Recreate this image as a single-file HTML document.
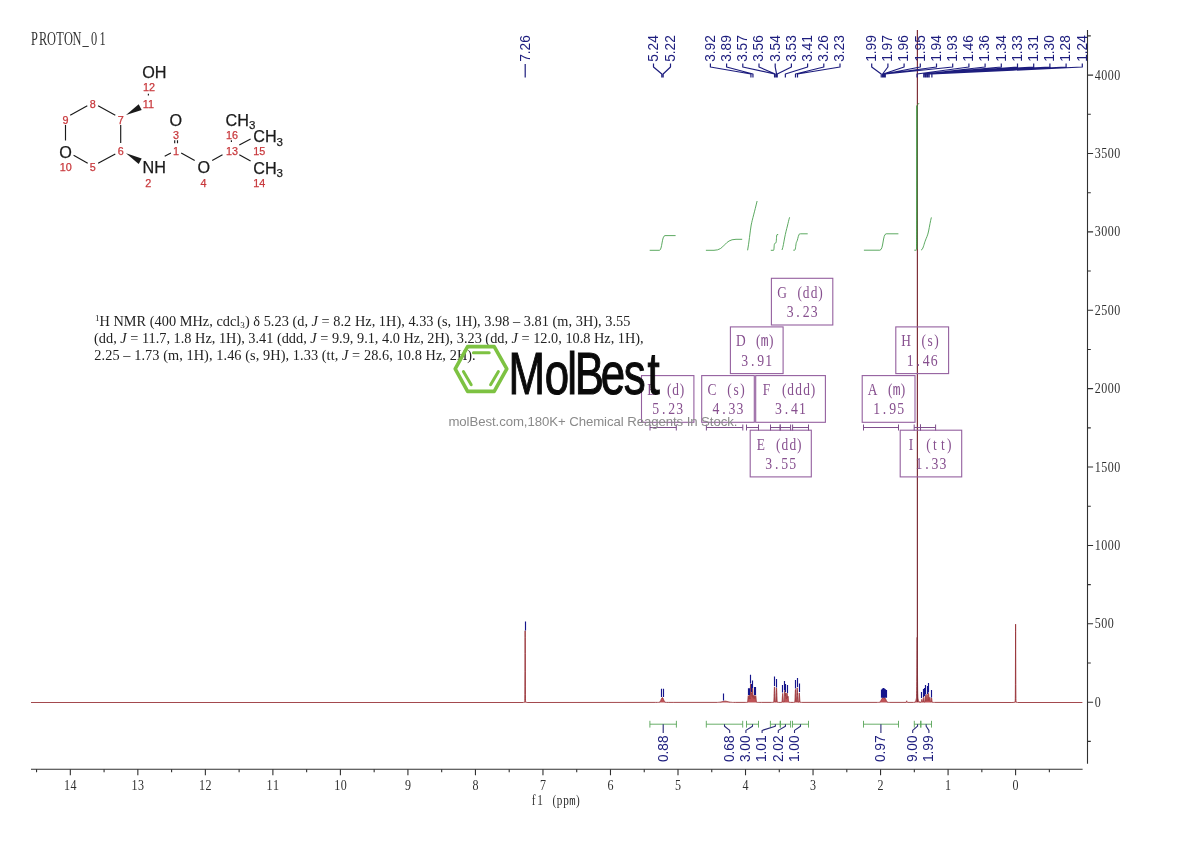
<!DOCTYPE html>
<html lang="en"><head><meta charset="utf-8"><title>PROTON_01 1H NMR</title>
<style>
html,body{margin:0;padding:0;background:#fff;}
svg{display:block;}
text{white-space:pre;}
</style></head><body>
<svg width="1190" height="841" viewBox="0 0 1190 841">
<rect width="1190" height="841" fill="#fff"/>
<text transform="translate(30.30 44.50) scale(0.680 1.000)" x="6.25 18.75 31.25 43.75 56.25 68.75 81.25 93.75 106.25" y="0" font-family="'Liberation Serif',serif" font-size="18.20" fill="#333" text-anchor="middle" >PROTON_01</text>
<g stroke="#303030" stroke-width="1.1" fill="none">
<path d="M31 769.3H1082.6"/>
<path d="M1049.36 769.3v3.0M1015.60 769.3v6.0M981.84 769.3v3.0M948.08 769.3v6.0M914.32 769.3v3.0M880.56 769.3v6.0M846.80 769.3v3.0M813.04 769.3v6.0M779.28 769.3v3.0M745.52 769.3v6.0M711.76 769.3v3.0M678.00 769.3v6.0M644.24 769.3v3.0M610.48 769.3v6.0M576.72 769.3v3.0M542.96 769.3v6.0M509.20 769.3v3.0M475.44 769.3v6.0M441.68 769.3v3.0M407.92 769.3v6.0M374.16 769.3v3.0M340.40 769.3v6.0M306.64 769.3v3.0M272.88 769.3v6.0M239.12 769.3v3.0M205.36 769.3v6.0M171.60 769.3v3.0M137.84 769.3v6.0M104.08 769.3v3.0M70.32 769.3v6.0M36.56 769.3v3.0"/>
<path d="M1087.5 30V763.7"/>
<path d="M1087.5 741.39h3.3M1087.5 702.20h5.6M1087.5 663.01h3.3M1087.5 623.81h5.6M1087.5 584.62h3.3M1087.5 545.43h5.6M1087.5 506.23h3.3M1087.5 467.04h5.6M1087.5 427.84h3.3M1087.5 388.65h5.6M1087.5 349.46h3.3M1087.5 310.26h5.6M1087.5 271.07h3.3M1087.5 231.88h5.6M1087.5 192.68h3.3M1087.5 153.49h5.6M1087.5 114.29h3.3M1087.5 75.10h5.6M1087.5 35.91h3.3"/>
</g>
<text transform="translate(1012.35 790.20) scale(0.860 1.000)" x="3.78" y="0" font-family="'Liberation Serif',serif" font-size="14.00" fill="#303030" text-anchor="middle" >0</text>
<text transform="translate(944.83 790.20) scale(0.860 1.000)" x="3.78" y="0" font-family="'Liberation Serif',serif" font-size="14.00" fill="#303030" text-anchor="middle" >1</text>
<text transform="translate(877.31 790.20) scale(0.860 1.000)" x="3.78" y="0" font-family="'Liberation Serif',serif" font-size="14.00" fill="#303030" text-anchor="middle" >2</text>
<text transform="translate(809.79 790.20) scale(0.860 1.000)" x="3.78" y="0" font-family="'Liberation Serif',serif" font-size="14.00" fill="#303030" text-anchor="middle" >3</text>
<text transform="translate(742.27 790.20) scale(0.860 1.000)" x="3.78" y="0" font-family="'Liberation Serif',serif" font-size="14.00" fill="#303030" text-anchor="middle" >4</text>
<text transform="translate(674.75 790.20) scale(0.860 1.000)" x="3.78" y="0" font-family="'Liberation Serif',serif" font-size="14.00" fill="#303030" text-anchor="middle" >5</text>
<text transform="translate(607.23 790.20) scale(0.860 1.000)" x="3.78" y="0" font-family="'Liberation Serif',serif" font-size="14.00" fill="#303030" text-anchor="middle" >6</text>
<text transform="translate(539.71 790.20) scale(0.860 1.000)" x="3.78" y="0" font-family="'Liberation Serif',serif" font-size="14.00" fill="#303030" text-anchor="middle" >7</text>
<text transform="translate(472.19 790.20) scale(0.860 1.000)" x="3.78" y="0" font-family="'Liberation Serif',serif" font-size="14.00" fill="#303030" text-anchor="middle" >8</text>
<text transform="translate(404.67 790.20) scale(0.860 1.000)" x="3.78" y="0" font-family="'Liberation Serif',serif" font-size="14.00" fill="#303030" text-anchor="middle" >9</text>
<text transform="translate(333.90 790.20) scale(0.860 1.000)" x="3.78 11.34" y="0" font-family="'Liberation Serif',serif" font-size="14.00" fill="#303030" text-anchor="middle" >10</text>
<text transform="translate(266.38 790.20) scale(0.860 1.000)" x="3.78 11.34" y="0" font-family="'Liberation Serif',serif" font-size="14.00" fill="#303030" text-anchor="middle" >11</text>
<text transform="translate(198.86 790.20) scale(0.860 1.000)" x="3.78 11.34" y="0" font-family="'Liberation Serif',serif" font-size="14.00" fill="#303030" text-anchor="middle" >12</text>
<text transform="translate(131.34 790.20) scale(0.860 1.000)" x="3.78 11.34" y="0" font-family="'Liberation Serif',serif" font-size="14.00" fill="#303030" text-anchor="middle" >13</text>
<text transform="translate(63.82 790.20) scale(0.860 1.000)" x="3.78 11.34" y="0" font-family="'Liberation Serif',serif" font-size="14.00" fill="#303030" text-anchor="middle" >14</text>
<text transform="translate(1094.60 706.80) scale(0.860 1.000)" x="3.78" y="0" font-family="'Liberation Serif',serif" font-size="14.00" fill="#303030" text-anchor="middle" >0</text>
<text transform="translate(1094.60 628.41) scale(0.860 1.000)" x="3.78 11.34 18.90" y="0" font-family="'Liberation Serif',serif" font-size="14.00" fill="#303030" text-anchor="middle" >500</text>
<text transform="translate(1094.60 550.03) scale(0.860 1.000)" x="3.78 11.34 18.90 26.45" y="0" font-family="'Liberation Serif',serif" font-size="14.00" fill="#303030" text-anchor="middle" >1000</text>
<text transform="translate(1094.60 471.64) scale(0.860 1.000)" x="3.78 11.34 18.90 26.45" y="0" font-family="'Liberation Serif',serif" font-size="14.00" fill="#303030" text-anchor="middle" >1500</text>
<text transform="translate(1094.60 393.25) scale(0.860 1.000)" x="3.78 11.34 18.90 26.45" y="0" font-family="'Liberation Serif',serif" font-size="14.00" fill="#303030" text-anchor="middle" >2000</text>
<text transform="translate(1094.60 314.86) scale(0.860 1.000)" x="3.78 11.34 18.90 26.45" y="0" font-family="'Liberation Serif',serif" font-size="14.00" fill="#303030" text-anchor="middle" >2500</text>
<text transform="translate(1094.60 236.48) scale(0.860 1.000)" x="3.78 11.34 18.90 26.45" y="0" font-family="'Liberation Serif',serif" font-size="14.00" fill="#303030" text-anchor="middle" >3000</text>
<text transform="translate(1094.60 158.09) scale(0.860 1.000)" x="3.78 11.34 18.90 26.45" y="0" font-family="'Liberation Serif',serif" font-size="14.00" fill="#303030" text-anchor="middle" >3500</text>
<text transform="translate(1094.60 79.70) scale(0.860 1.000)" x="3.78 11.34 18.90 26.45" y="0" font-family="'Liberation Serif',serif" font-size="14.00" fill="#303030" text-anchor="middle" >4000</text>
<text transform="translate(530.30 804.60) scale(0.800 1.000)" x="4.06 12.19 20.31 30.06 36.56 44.69 52.81 59.31" y="0" font-family="'Liberation Serif',serif" font-size="14.00" fill="#303030" text-anchor="middle" >f1 (pp<tspan font-family="'Liberation Mono',monospace" font-size="13.27">m</tspan>)</text>
<path d="M31.00,702.5 523.20,702.5 523.25,702.4 523.55,702.4 523.75,702.4 523.90,702.3 524.00,702.3 524.10,702.3 524.20,702.3 524.25,702.2 524.30,702.2 524.35,702.2 524.40,702.1 524.45,702.1 524.50,702.0 524.55,702.0 524.60,701.9 524.65,701.8 524.70,701.6 524.75,701.3 524.80,700.7 524.85,698.9 524.90,694.7 524.95,686.1 525.00,671.8 525.05,653.6 525.10,637.3 525.15,630.7 525.20,637.3 525.25,653.6 525.30,671.8 525.35,686.1 525.40,694.7 525.45,698.9 525.50,700.7 525.55,701.3 525.60,701.6 525.65,701.8 525.70,701.9 525.75,702.0 525.80,702.0 525.85,702.1 525.90,702.1 525.95,702.2 526.00,702.2 526.05,702.2 526.10,702.3 526.20,702.3 526.30,702.3 526.40,702.3 526.55,702.4 526.75,702.4 527.05,702.4 527.10,702.5 655.30,702.4 657.40,702.4 658.25,702.4 658.65,702.4 658.90,702.3 659.05,702.3 659.15,702.3 659.25,702.3 659.35,702.2 659.40,702.2 659.45,702.2 659.50,702.2 659.55,702.2 659.60,702.1 659.65,702.1 659.70,702.1 659.75,702.0 659.80,702.0 659.85,701.9 659.90,701.9 659.95,701.8 660.00,701.8 660.05,701.7 660.10,701.7 660.15,701.6 660.20,701.5 660.25,701.5 660.30,701.4 660.35,701.3 660.40,701.2 660.45,701.1 660.50,701.0 660.55,700.9 660.60,700.8 660.65,700.7 660.70,700.6 660.75,700.5 660.80,700.3 660.85,700.2 660.90,700.1 660.95,700.0 661.00,699.9 661.05,699.7 661.10,699.6 661.15,699.5 661.20,699.4 661.25,699.2 661.30,699.1 661.35,699.0 661.40,698.9 661.45,698.8 661.50,698.7 661.55,698.6 661.60,698.5 661.65,698.4 661.70,698.3 661.75,698.2 661.80,698.2 661.85,698.1 661.90,698.0 661.95,698.0 662.00,697.9 662.05,697.9 662.10,697.8 662.15,697.8 662.20,697.8 662.30,697.8 662.50,697.8 662.55,697.8 662.60,697.8 662.65,697.9 662.70,697.9 662.75,698.0 662.80,698.0 662.85,698.1 662.90,698.2 662.95,698.2 663.00,698.3 663.05,698.4 663.10,698.5 663.15,698.6 663.20,698.7 663.25,698.8 663.30,698.9 663.35,699.0 663.40,699.1 663.45,699.2 663.50,699.4 663.55,699.5 663.60,699.6 663.65,699.7 663.70,699.9 663.75,700.0 663.80,700.1 663.85,700.2 663.90,700.3 663.95,700.5 664.00,700.6 664.05,700.7 664.10,700.8 664.15,700.9 664.20,701.0 664.25,701.1 664.30,701.2 664.35,701.3 664.40,701.4 664.45,701.5 664.50,701.5 664.55,701.6 664.60,701.7 664.65,701.7 664.70,701.8 664.75,701.8 664.80,701.9 664.85,701.9 664.90,702.0 664.95,702.0 665.00,702.1 665.05,702.1 665.10,702.1 665.15,702.2 665.20,702.2 665.25,702.2 665.30,702.2 665.40,702.3 665.50,702.3 665.60,702.3 665.75,702.3 665.95,702.4 666.25,702.4 666.85,702.4 668.25,702.4 673.15,702.4 716.00,702.4 717.10,702.4 717.70,702.4 718.10,702.4 718.45,702.3 718.75,702.3 719.00,702.3 719.20,702.3 719.40,702.2 719.60,702.2 719.75,702.2 719.90,702.2 720.05,702.1 720.20,702.1 720.35,702.1 720.50,702.1 720.60,702.0 720.70,702.0 720.80,702.0 720.90,702.0 721.00,702.0 721.10,701.9 721.20,701.9 721.30,701.9 721.40,701.9 721.50,701.8 721.60,701.8 721.70,701.8 721.80,701.8 721.90,701.7 722.00,701.7 722.10,701.7 722.20,701.6 722.30,701.6 722.40,701.6 722.50,701.6 722.60,701.5 722.70,701.5 722.80,701.5 722.90,701.5 723.00,701.4 723.10,701.4 723.20,701.4 723.30,701.4 723.40,701.3 723.50,701.3 723.60,701.3 723.75,701.3 723.90,701.2 724.05,701.2 724.20,701.2 724.40,701.2 724.70,701.2 725.60,701.2 725.80,701.2 725.95,701.2 726.10,701.2 726.25,701.3 726.40,701.3 726.50,701.3 726.60,701.3 726.70,701.4 726.80,701.4 726.90,701.4 727.00,701.4 727.10,701.5 727.20,701.5 727.30,701.5 727.40,701.5 727.50,701.6 727.60,701.6 727.70,701.6 727.80,701.6 727.90,701.7 728.00,701.7 728.10,701.7 728.20,701.8 728.30,701.8 728.40,701.8 728.50,701.8 728.60,701.9 728.70,701.9 728.80,701.9 728.90,701.9 729.00,702.0 729.10,702.0 729.20,702.0 729.30,702.0 729.40,702.0 729.50,702.1 729.65,702.1 729.80,702.1 729.95,702.1 730.10,702.2 730.25,702.2 730.40,702.2 730.55,702.2 730.75,702.3 730.95,702.3 731.20,702.3 731.45,702.3 731.75,702.3 732.10,702.4 732.60,702.4 733.35,702.4 735.20,702.4 745.85,702.4 746.25,702.4 746.65,702.4 746.90,702.3 747.05,702.3 747.15,702.3 747.20,702.3 747.25,702.3 747.30,702.2 747.35,702.2 747.40,702.1 747.45,702.1 747.50,702.0 747.55,701.8 747.60,701.7 747.65,701.4 747.70,701.1 747.75,700.8 747.80,700.3 747.85,699.9 747.90,699.3 747.95,698.7 748.00,698.1 748.05,697.5 748.10,696.9 748.15,696.5 748.20,696.1 748.25,695.8 748.30,695.7 748.35,695.8 748.40,696.0 748.45,696.3 748.50,696.7 748.55,697.2 748.60,697.7 748.65,698.2 748.70,698.5 748.75,698.8 748.80,699.0 748.85,699.0 748.90,698.9 748.95,698.7 749.00,698.3 749.05,697.9 749.10,697.3 749.15,696.8 749.20,696.3 749.25,695.8 749.30,695.4 749.35,695.2 749.40,695.1 749.45,695.2 749.50,695.4 749.55,695.8 749.60,696.3 749.65,696.8 749.70,697.4 749.75,697.9 749.80,698.4 749.85,698.7 749.90,698.9 749.95,698.9 750.00,698.7 750.05,698.2 750.10,697.4 750.15,696.3 750.20,695.0 750.25,693.4 750.30,691.6 750.35,689.8 750.40,688.0 750.45,686.4 750.50,685.1 750.55,684.3 750.60,683.9 750.65,684.1 750.70,684.8 750.75,685.9 750.80,687.2 750.85,688.7 750.90,690.2 750.95,691.5 751.00,692.6 751.05,693.4 751.10,694.0 751.15,694.2 751.20,694.1 751.25,693.9 751.30,693.6 751.35,693.3 751.40,693.0 751.45,692.8 751.50,692.7 751.55,692.9 751.60,693.2 751.65,693.7 751.70,694.2 751.75,694.8 751.80,695.4 751.85,695.9 751.90,696.2 751.95,696.4 752.00,696.2 752.05,695.8 752.10,695.2 752.15,694.3 752.20,693.1 752.25,691.9 752.30,690.7 752.35,689.6 752.40,688.7 752.45,688.1 752.50,687.9 752.55,688.2 752.60,688.8 752.65,689.7 752.70,690.9 752.75,692.1 752.80,693.4 752.85,694.6 752.90,695.7 752.95,696.5 753.00,697.0 753.05,697.4 753.10,697.5 753.15,697.3 753.20,697.1 753.25,696.8 753.30,696.4 753.35,696.0 753.40,695.7 753.45,695.5 753.50,695.5 753.55,695.5 753.60,695.7 753.65,696.1 753.70,696.5 753.75,696.9 753.80,697.4 753.85,697.8 753.90,698.2 753.95,698.4 754.00,698.6 754.05,698.6 754.10,698.6 754.15,698.4 754.20,698.1 754.25,697.7 754.30,697.3 754.35,696.9 754.40,696.5 754.45,696.1 754.50,695.8 754.55,695.7 754.60,695.6 754.65,695.6 754.70,695.8 754.75,696.0 754.80,696.4 754.85,696.7 754.90,697.1 754.95,697.5 755.00,697.8 755.05,698.1 755.10,698.2 755.15,698.3 755.20,698.2 755.25,698.1 755.30,697.8 755.35,697.5 755.40,697.2 755.45,696.8 755.50,696.5 755.55,696.1 755.60,695.9 755.65,695.8 755.70,695.7 755.75,695.8 755.80,696.0 755.85,696.4 755.90,696.8 755.95,697.2 756.00,697.8 756.05,698.3 756.10,698.9 756.15,699.4 756.20,699.9 756.25,700.3 756.30,700.7 756.35,701.0 756.40,701.3 756.45,701.6 756.50,701.7 756.55,701.9 756.60,702.0 756.65,702.1 756.70,702.1 756.75,702.2 756.80,702.2 756.85,702.3 756.90,702.3 756.95,702.3 757.05,702.3 757.20,702.3 757.35,702.4 757.70,702.4 758.25,702.4 759.10,702.4 761.70,702.4 771.05,702.4 771.70,702.4 772.30,702.4 772.65,702.4 772.90,702.3 773.10,702.3 773.25,702.3 773.35,702.3 773.40,702.2 773.45,702.2 773.50,702.2 773.55,702.1 773.60,702.1 773.65,702.0 773.70,701.9 773.75,701.7 773.80,701.4 773.85,701.0 773.90,700.5 773.95,699.8 774.00,698.9 774.05,697.8 774.10,696.5 774.15,695.0 774.20,693.5 774.25,691.9 774.30,690.3 774.35,688.9 774.40,687.8 774.45,687.1 774.50,686.9 774.55,687.1 774.60,687.8 774.65,688.9 774.70,690.3 774.75,691.8 774.80,693.4 774.85,695.0 774.90,696.5 774.95,697.7 775.00,698.8 775.05,699.7 775.10,700.4 775.15,700.9 775.20,701.3 775.25,701.6 775.30,701.7 775.35,701.9 775.40,701.9 775.45,702.0 775.55,702.0 775.60,701.9 775.65,701.9 775.70,701.8 775.75,701.6 775.80,701.3 775.85,701.0 775.90,700.5 775.95,699.9 776.00,699.0 776.05,698.0 776.10,696.8 776.15,695.5 776.20,694.0 776.25,692.5 776.30,691.1 776.35,689.8 776.40,688.8 776.45,688.1 776.50,687.9 776.55,688.1 776.60,688.8 776.65,689.8 776.70,691.1 776.75,692.5 776.80,694.0 776.85,695.5 776.90,696.9 776.95,698.1 777.00,699.1 777.05,699.9 777.10,700.6 777.15,701.1 777.20,701.4 777.25,701.7 777.30,701.9 777.35,702.0 777.40,702.1 777.45,702.2 777.50,702.2 777.55,702.2 777.60,702.2 777.70,702.3 777.80,702.3 778.00,702.3 778.20,702.3 778.50,702.4 779.00,702.4 780.95,702.4 781.25,702.3 781.50,702.3 781.60,702.3 781.70,702.3 781.75,702.2 781.80,702.2 781.85,702.2 781.90,702.1 781.95,702.0 782.00,701.8 782.05,701.6 782.10,701.3 782.15,700.9 782.20,700.3 782.25,699.7 782.30,699.0 782.35,698.1 782.40,697.2 782.45,696.3 782.50,695.4 782.55,694.6 782.60,693.9 782.65,693.5 782.70,693.4 782.75,693.5 782.80,693.9 782.85,694.5 782.90,695.3 782.95,696.2 783.00,697.1 783.05,698.1 783.10,698.9 783.15,699.6 783.20,700.3 783.25,700.8 783.30,701.2 783.35,701.5 783.40,701.7 783.45,701.8 783.50,701.9 783.55,702.0 783.60,702.0 783.75,702.0 783.80,702.0 783.85,701.9 783.90,701.8 783.95,701.7 784.00,701.5 784.05,701.3 784.10,701.0 784.15,700.6 784.20,700.0 784.25,699.4 784.30,698.6 784.35,697.7 784.40,696.7 784.45,695.6 784.50,694.5 784.55,693.4 784.60,692.4 784.65,691.5 784.70,690.8 784.75,690.3 784.80,690.2 784.85,690.3 784.90,690.6 784.95,691.2 785.00,691.9 785.05,692.8 785.10,693.6 785.15,694.4 785.20,695.1 785.25,695.6 785.30,695.9 785.35,696.0 785.40,695.9 785.45,695.6 785.50,695.2 785.55,694.7 785.60,694.2 785.65,693.7 785.70,693.3 785.75,693.1 785.80,693.0 785.85,693.2 785.90,693.5 785.95,694.0 786.00,694.6 786.05,695.4 786.10,696.1 786.15,696.9 786.20,697.6 786.25,698.1 786.30,698.6 786.35,698.8 786.40,698.9 786.45,698.8 786.50,698.6 786.55,698.1 786.60,697.6 786.65,696.9 786.70,696.2 786.75,695.4 786.80,694.7 786.85,694.1 786.90,693.6 786.95,693.3 787.00,693.1 787.05,693.2 787.10,693.5 787.15,694.0 787.20,694.5 787.25,695.2 787.30,695.9 787.35,696.5 787.40,697.0 787.45,697.5 787.50,697.8 787.55,697.9 787.60,697.9 787.65,697.8 787.70,697.5 787.75,697.2 787.80,696.9 787.85,696.6 787.90,696.3 787.95,696.2 788.00,696.2 788.05,696.3 788.10,696.5 788.15,696.9 788.20,697.3 788.25,697.9 788.30,698.4 788.35,699.0 788.40,699.5 788.45,700.0 788.50,700.5 788.55,700.9 788.60,701.2 788.65,701.5 788.70,701.7 788.75,701.9 788.80,702.0 788.85,702.1 788.90,702.2 788.95,702.2 789.00,702.2 789.05,702.3 789.15,702.3 789.25,702.3 789.40,702.3 789.65,702.4 790.00,702.4 790.30,702.4 793.55,702.4 793.85,702.4 794.05,702.3 794.20,702.3 794.30,702.3 794.40,702.3 794.45,702.2 794.50,702.2 794.55,702.2 794.60,702.1 794.65,702.0 794.70,701.9 794.75,701.8 794.80,701.5 794.85,701.2 794.90,700.8 794.95,700.2 795.00,699.4 795.05,698.5 795.10,697.4 795.15,696.2 795.20,694.9 795.25,693.5 795.30,692.2 795.35,691.1 795.40,690.2 795.45,689.6 795.50,689.4 795.55,689.6 795.60,690.1 795.65,691.0 795.70,692.2 795.75,693.5 795.80,694.8 795.85,696.1 795.90,697.4 795.95,698.4 796.00,699.3 796.05,700.1 796.10,700.6 796.15,701.0 796.20,701.3 796.25,701.5 796.30,701.6 796.35,701.7 796.40,701.6 796.45,701.5 796.50,701.3 796.55,700.9 796.60,700.5 796.65,699.8 796.70,699.0 796.75,698.0 796.80,696.8 796.85,695.4 796.90,694.0 796.95,692.5 797.00,691.0 797.05,689.7 797.10,688.7 797.15,688.1 797.20,687.8 797.25,688.1 797.30,688.7 797.35,689.7 797.40,691.0 797.45,692.5 797.50,694.0 797.55,695.5 797.60,696.8 797.65,698.0 797.70,699.1 797.75,699.9 797.80,700.5 797.85,701.0 797.90,701.4 797.95,701.6 798.00,701.8 798.05,701.9 798.10,702.0 798.15,702.1 798.20,702.1 798.35,702.1 798.40,702.1 798.45,702.0 798.50,702.0 798.55,701.8 798.60,701.7 798.65,701.5 798.70,701.1 798.75,700.7 798.80,700.2 798.85,699.5 798.90,698.7 798.95,697.8 799.00,696.9 799.05,695.9 799.10,695.0 799.15,694.1 799.20,693.5 799.25,693.0 799.30,692.9 799.35,693.0 799.40,693.5 799.45,694.1 799.50,695.0 799.55,695.9 799.60,696.9 799.65,697.9 799.70,698.8 799.75,699.6 799.80,700.2 799.85,700.8 799.90,701.2 799.95,701.5 800.00,701.8 800.05,701.9 800.10,702.1 800.15,702.1 800.20,702.2 800.25,702.2 800.30,702.3 800.35,702.3 800.45,702.3 800.60,702.3 800.80,702.4 801.10,702.4 801.60,702.4 802.05,702.4 877.55,702.4 878.55,702.4 879.00,702.4 879.25,702.3 879.40,702.3 879.50,702.3 879.60,702.3 879.70,702.2 879.75,702.2 879.80,702.2 879.85,702.2 879.90,702.1 879.95,702.1 880.00,702.0 880.05,702.0 880.10,702.0 880.15,701.9 880.20,701.8 880.25,701.8 880.30,701.7 880.35,701.6 880.40,701.6 880.45,701.5 880.50,701.4 880.55,701.3 880.60,701.2 880.65,701.1 880.70,701.0 880.75,700.9 880.80,700.8 880.85,700.7 880.90,700.6 880.95,700.5 881.00,700.4 881.05,700.3 881.10,700.2 881.15,700.1 881.20,700.0 881.25,699.9 881.30,699.8 881.35,699.7 881.40,699.6 881.45,699.5 881.50,699.4 881.55,699.3 881.60,699.3 881.65,699.2 881.70,699.1 881.75,699.0 881.80,699.0 881.85,698.9 881.90,698.8 881.95,698.8 882.00,698.7 882.05,698.6 882.10,698.6 882.15,698.5 882.20,698.4 882.25,698.4 882.30,698.3 882.35,698.2 882.40,698.2 882.45,698.1 882.50,698.1 882.55,698.0 882.60,698.0 882.65,697.9 882.70,697.9 882.75,697.8 882.80,697.8 882.85,697.8 882.90,697.7 882.95,697.7 883.00,697.7 883.05,697.6 883.10,697.6 883.15,697.6 883.20,697.5 883.25,697.5 883.30,697.5 883.35,697.4 883.40,697.4 883.45,697.4 883.55,697.4 883.70,697.3 883.85,697.4 883.90,697.4 883.95,697.4 884.00,697.4 884.05,697.5 884.10,697.5 884.15,697.5 884.20,697.6 884.25,697.6 884.30,697.7 884.35,697.7 884.40,697.7 884.45,697.8 884.50,697.8 884.55,697.9 884.60,697.9 884.65,698.0 884.70,698.0 884.75,698.0 884.80,698.1 884.85,698.1 884.90,698.2 884.95,698.2 885.00,698.3 885.05,698.3 885.10,698.4 885.15,698.4 885.20,698.5 885.25,698.5 885.30,698.6 885.35,698.6 885.40,698.7 885.45,698.8 885.50,698.9 885.55,698.9 885.60,699.0 885.65,699.1 885.70,699.2 885.75,699.3 885.80,699.4 885.85,699.4 885.90,699.5 885.95,699.6 886.00,699.7 886.05,699.8 886.10,699.9 886.15,700.1 886.20,700.2 886.25,700.3 886.30,700.4 886.35,700.5 886.40,700.6 886.45,700.7 886.50,700.8 886.55,700.9 886.60,701.0 886.65,701.1 886.70,701.2 886.75,701.3 886.80,701.4 886.85,701.5 886.90,701.5 886.95,701.6 887.00,701.7 887.05,701.8 887.10,701.8 887.15,701.9 887.20,701.9 887.25,702.0 887.30,702.0 887.35,702.1 887.40,702.1 887.45,702.1 887.50,702.2 887.55,702.2 887.60,702.2 887.65,702.2 887.75,702.3 887.85,702.3 887.95,702.3 888.10,702.3 888.35,702.4 888.80,702.4 889.75,702.4 892.00,702.4 905.95,702.4 906.00,702.4 906.05,702.4 906.10,702.3 906.15,702.3 906.20,702.2 906.25,702.1 906.30,702.0 906.35,701.8 906.40,701.7 906.45,701.5 906.50,701.3 906.55,701.1 906.60,701.0 906.65,700.9 906.70,700.8 906.75,700.9 906.80,701.0 906.85,701.1 906.90,701.3 906.95,701.5 907.00,701.7 907.05,701.8 907.10,702.0 907.15,702.1 907.20,702.2 907.25,702.3 907.30,702.3 907.35,702.4 907.40,702.4 907.50,702.4 907.90,702.4 913.20,702.4 913.60,702.4 913.65,702.4 914.00,702.3 914.25,702.3 914.40,702.3 914.55,702.3 914.65,702.2 914.75,702.2 914.80,702.2 914.85,702.2 914.90,702.1 914.95,702.1 915.00,702.1 915.05,702.0 915.10,702.0 915.15,702.0 915.20,701.9 915.25,701.9 915.30,701.8 915.35,701.7 915.40,701.7 915.45,701.6 915.50,701.5 915.55,701.4 915.60,701.3 915.65,701.2 915.70,701.1 915.75,701.0 915.80,700.8 915.85,700.7 915.90,700.5 915.95,700.4 916.00,700.2 916.05,700.0 916.10,699.8 916.15,699.6 916.20,699.4 916.25,699.2 916.30,699.0 916.35,698.7 916.40,698.4 916.45,698.1 916.50,697.7 916.55,697.2 916.60,696.4 916.65,695.1 916.70,693.3 916.75,690.6 916.80,686.7 916.85,681.5 916.90,674.9 916.95,667.2 917.00,658.8 917.05,650.7 917.10,643.8 917.15,639.1 917.20,637.4 917.25,639.1 917.30,643.8 917.35,650.7 917.40,658.8 917.45,667.2 917.50,674.9 917.55,681.5 917.60,686.7 917.65,690.6 917.70,693.3 917.75,695.1 917.80,696.4 917.85,697.2 917.90,697.7 917.95,698.1 918.00,698.4 918.05,698.7 918.10,699.0 918.15,699.2 918.20,699.4 918.25,699.6 918.30,699.8 918.35,700.0 918.40,700.2 918.45,700.4 918.50,700.5 918.55,700.7 918.60,700.8 918.65,700.9 918.70,701.1 918.75,701.2 918.80,701.3 918.85,701.4 918.90,701.5 918.95,701.6 919.00,701.6 919.05,701.7 919.10,701.8 919.15,701.8 919.20,701.9 919.25,701.9 919.30,702.0 919.35,702.0 919.40,702.1 919.45,702.1 919.50,702.1 919.55,702.1 919.60,702.2 919.70,702.2 919.80,702.2 919.90,702.2 920.05,702.3 920.35,702.3 920.80,702.3 920.85,702.3 920.90,702.3 920.95,702.2 921.00,702.2 921.05,702.1 921.10,702.0 921.15,701.9 921.20,701.8 921.25,701.7 921.30,701.5 921.35,701.2 921.40,701.0 921.45,700.7 921.50,700.4 921.55,700.2 921.60,699.9 921.65,699.7 921.70,699.5 921.75,699.4 921.80,699.4 921.85,699.4 921.90,699.5 921.95,699.7 922.00,699.9 922.05,700.1 922.10,700.4 922.15,700.7 922.20,701.0 922.25,701.2 922.30,701.4 922.35,701.6 922.40,701.8 922.45,701.9 922.50,702.0 922.55,702.0 922.60,702.0 922.65,702.0 922.70,702.0 922.75,701.9 922.80,701.8 922.85,701.6 922.90,701.4 922.95,701.1 923.00,700.8 923.05,700.5 923.10,700.0 923.15,699.6 923.20,699.1 923.25,698.7 923.30,698.2 923.35,697.9 923.40,697.6 923.45,697.4 923.50,697.4 923.55,697.4 923.60,697.6 923.65,697.9 923.70,698.2 923.75,698.7 923.80,699.1 923.85,699.6 923.90,700.0 923.95,700.4 924.00,700.8 924.05,701.1 924.10,701.4 924.15,701.6 924.20,701.8 924.25,701.9 924.30,702.0 924.35,702.1 924.40,702.1 924.50,702.1 924.55,702.1 924.60,702.0 924.65,702.0 924.70,701.9 924.75,701.7 924.80,701.6 924.85,701.3 924.90,701.0 924.95,700.6 925.00,700.2 925.05,699.7 925.10,699.1 925.15,698.4 925.20,697.8 925.25,697.2 925.30,696.6 925.35,696.0 925.40,695.6 925.45,695.4 925.50,695.3 925.55,695.4 925.60,695.6 925.65,696.0 925.70,696.5 925.75,697.1 925.80,697.7 925.85,698.3 925.90,698.9 925.95,699.5 926.00,699.9 926.05,700.3 926.10,700.6 926.15,700.8 926.20,700.8 926.25,700.8 926.30,700.7 926.35,700.4 926.40,700.1 926.45,699.7 926.50,699.2 926.55,698.6 926.60,698.0 926.65,697.3 926.70,696.7 926.75,696.0 926.80,695.5 926.85,695.0 926.90,694.6 926.95,694.4 927.00,694.3 927.05,694.4 927.10,694.6 927.15,695.0 927.20,695.4 927.25,696.0 927.30,696.6 927.35,697.3 927.40,697.9 927.45,698.6 927.50,699.1 927.55,699.6 927.60,700.0 927.65,700.3 927.70,700.5 927.75,700.6 927.80,700.6 927.85,700.5 927.90,700.2 927.95,699.8 928.00,699.3 928.05,698.7 928.10,698.0 928.15,697.2 928.20,696.4 928.25,695.6 928.30,694.9 928.35,694.2 928.40,693.7 928.45,693.4 928.50,693.3 928.55,693.4 928.60,693.7 928.65,694.2 928.70,694.9 928.75,695.6 928.80,696.4 928.85,697.2 928.90,698.0 928.95,698.7 929.00,699.3 929.05,699.8 929.10,700.1 929.15,700.4 929.20,700.5 929.25,700.4 929.30,700.3 929.35,700.1 929.40,699.7 929.45,699.4 929.50,698.9 929.55,698.5 929.60,698.1 929.65,697.8 929.70,697.5 929.75,697.3 929.80,697.3 929.85,697.4 929.90,697.5 929.95,697.8 930.00,698.2 930.05,698.6 930.10,699.1 930.15,699.5 930.20,700.0 930.25,700.4 930.30,700.8 930.35,701.1 930.40,701.4 930.45,701.6 930.50,701.7 930.55,701.8 930.60,701.9 930.65,701.9 930.70,701.9 930.75,701.9 930.80,701.8 930.85,701.7 930.90,701.5 930.95,701.2 931.00,701.0 931.05,700.6 931.10,700.3 931.15,699.9 931.20,699.5 931.25,699.0 931.30,698.7 931.35,698.3 931.40,698.1 931.45,697.9 931.50,697.9 931.55,697.9 931.60,698.1 931.65,698.4 931.70,698.7 931.75,699.1 931.80,699.5 931.85,699.9 931.90,700.3 931.95,700.7 932.00,701.0 932.05,701.3 932.10,701.6 932.15,701.8 932.20,701.9 932.25,702.0 932.30,702.1 932.35,702.2 932.40,702.3 932.45,702.3 932.50,702.3 932.60,702.3 932.75,702.4 933.00,702.4 933.55,702.4 934.45,702.4 1011.95,702.5 1013.95,702.4 1014.15,702.4 1014.30,702.3 1014.45,702.3 1014.55,702.3 1014.60,702.3 1014.65,702.2 1014.70,702.2 1014.75,702.2 1014.80,702.1 1014.85,702.1 1014.90,702.1 1014.95,702.0 1015.00,701.9 1015.05,701.8 1015.10,701.7 1015.15,701.5 1015.20,701.2 1015.25,700.5 1015.30,698.6 1015.35,694.0 1015.40,684.6 1015.45,669.0 1015.50,649.1 1015.55,631.4 1015.60,624.2 1015.65,631.4 1015.70,649.1 1015.75,669.0 1015.80,684.6 1015.85,694.0 1015.90,698.6 1015.95,700.5 1016.00,701.2 1016.05,701.5 1016.10,701.7 1016.15,701.8 1016.20,701.9 1016.25,702.0 1016.30,702.1 1016.35,702.1 1016.40,702.1 1016.45,702.2 1016.50,702.2 1016.55,702.2 1016.60,702.3 1016.70,702.3 1016.80,702.3 1016.95,702.3 1017.10,702.4 1017.35,702.4 1017.50,702.4 1017.55,702.5 1082.40,702.5" fill="#a8181e" fill-opacity="0.75" stroke="#98343a" stroke-width="0.9" stroke-linejoin="round"/>
<path d="M917.4 30V702" fill="none" stroke="#7f3038" stroke-width="1.2"/>
<path d="M525.5 621.4V630.5M661.5 688.7V697.0M663.5 688.7V697.0M723.5 693.4V700.4M748.5 688.2V695.0M749.5 688.2V695.0M750.5 674.7V683.5M752.5 680.6V688.0M751.5 684.0V692.0M754.5 686.9V695.0M755.5 686.9V695.0M774.5 676.4V686.0M776.5 678.9V687.5M782.5 685.0V692.5M784.5 681.0V690.0M785.5 684.0V692.0M787.5 685.0V693.0M795.5 680.0V688.5M797.5 678.0V687.0M799.5 683.5V692.0M881.5 689.6V697.8M882.5 688.6V697.8M883.5 688.0V697.8M884.5 688.4V697.8M885.5 689.2V697.8M886.5 690.0V697.8M921.5 692.0V698.0M923.5 689.0V697.0M924.5 688.0V696.0M925.5 685.0V694.5M927.5 686.0V694.0M928.5 683.0V692.5M931.5 690.0V697.5" fill="none" stroke="#15158c" stroke-width="1.15"/>
<text transform="translate(529.50 61.80) rotate(-90) scale(1 1.08)" font-family="'Liberation Sans',sans-serif" font-size="13.70" fill="#1d1d7e">7.26</text>
<text transform="translate(657.80 61.80) rotate(-90) scale(1 1.08)" font-family="'Liberation Sans',sans-serif" font-size="13.70" fill="#1d1d7e">5.24</text>
<text transform="translate(674.80 61.80) rotate(-90) scale(1 1.08)" font-family="'Liberation Sans',sans-serif" font-size="13.70" fill="#1d1d7e">5.22</text>
<text transform="translate(714.70 61.80) rotate(-90) scale(1 1.08)" font-family="'Liberation Sans',sans-serif" font-size="13.70" fill="#1d1d7e">3.92</text>
<text transform="translate(730.90 61.80) rotate(-90) scale(1 1.08)" font-family="'Liberation Sans',sans-serif" font-size="13.70" fill="#1d1d7e">3.89</text>
<text transform="translate(747.10 61.80) rotate(-90) scale(1 1.08)" font-family="'Liberation Sans',sans-serif" font-size="13.70" fill="#1d1d7e">3.57</text>
<text transform="translate(763.30 61.80) rotate(-90) scale(1 1.08)" font-family="'Liberation Sans',sans-serif" font-size="13.70" fill="#1d1d7e">3.56</text>
<text transform="translate(779.50 61.80) rotate(-90) scale(1 1.08)" font-family="'Liberation Sans',sans-serif" font-size="13.70" fill="#1d1d7e">3.54</text>
<text transform="translate(795.70 61.80) rotate(-90) scale(1 1.08)" font-family="'Liberation Sans',sans-serif" font-size="13.70" fill="#1d1d7e">3.53</text>
<text transform="translate(811.90 61.80) rotate(-90) scale(1 1.08)" font-family="'Liberation Sans',sans-serif" font-size="13.70" fill="#1d1d7e">3.41</text>
<text transform="translate(828.10 61.80) rotate(-90) scale(1 1.08)" font-family="'Liberation Sans',sans-serif" font-size="13.70" fill="#1d1d7e">3.26</text>
<text transform="translate(844.30 61.80) rotate(-90) scale(1 1.08)" font-family="'Liberation Sans',sans-serif" font-size="13.70" fill="#1d1d7e">3.23</text>
<text transform="translate(876.00 61.80) rotate(-90) scale(1 1.08)" font-family="'Liberation Sans',sans-serif" font-size="13.70" fill="#1d1d7e">1.99</text>
<text transform="translate(892.20 61.80) rotate(-90) scale(1 1.08)" font-family="'Liberation Sans',sans-serif" font-size="13.70" fill="#1d1d7e">1.97</text>
<text transform="translate(908.40 61.80) rotate(-90) scale(1 1.08)" font-family="'Liberation Sans',sans-serif" font-size="13.70" fill="#1d1d7e">1.96</text>
<text transform="translate(924.60 61.80) rotate(-90) scale(1 1.08)" font-family="'Liberation Sans',sans-serif" font-size="13.70" fill="#1d1d7e">1.95</text>
<text transform="translate(940.80 61.80) rotate(-90) scale(1 1.08)" font-family="'Liberation Sans',sans-serif" font-size="13.70" fill="#1d1d7e">1.94</text>
<text transform="translate(957.00 61.80) rotate(-90) scale(1 1.08)" font-family="'Liberation Sans',sans-serif" font-size="13.70" fill="#1d1d7e">1.93</text>
<text transform="translate(973.20 61.80) rotate(-90) scale(1 1.08)" font-family="'Liberation Sans',sans-serif" font-size="13.70" fill="#1d1d7e">1.46</text>
<text transform="translate(989.40 61.80) rotate(-90) scale(1 1.08)" font-family="'Liberation Sans',sans-serif" font-size="13.70" fill="#1d1d7e">1.36</text>
<text transform="translate(1005.60 61.80) rotate(-90) scale(1 1.08)" font-family="'Liberation Sans',sans-serif" font-size="13.70" fill="#1d1d7e">1.34</text>
<text transform="translate(1021.80 61.80) rotate(-90) scale(1 1.08)" font-family="'Liberation Sans',sans-serif" font-size="13.70" fill="#1d1d7e">1.33</text>
<text transform="translate(1038.00 61.80) rotate(-90) scale(1 1.08)" font-family="'Liberation Sans',sans-serif" font-size="13.70" fill="#1d1d7e">1.31</text>
<text transform="translate(1054.20 61.80) rotate(-90) scale(1 1.08)" font-family="'Liberation Sans',sans-serif" font-size="13.70" fill="#1d1d7e">1.30</text>
<text transform="translate(1070.40 61.80) rotate(-90) scale(1 1.08)" font-family="'Liberation Sans',sans-serif" font-size="13.70" fill="#1d1d7e">1.28</text>
<text transform="translate(1086.60 61.80) rotate(-90) scale(1 1.08)" font-family="'Liberation Sans',sans-serif" font-size="13.70" fill="#1d1d7e">1.24</text>
<path d="M525.20 64V77.5M653.50 63.6V67L661.80 74V77.5M670.50 63.6V67L663.15 74V77.5M710.40 63.6V67L750.92 74V77.5M726.60 63.6V67L752.95 74V77.5M742.80 63.6V67L774.55 74V77.5M759.00 63.6V67L775.23 74V77.5M775.20 63.6V67L776.58 74V77.5M791.40 63.6V67L777.25 74V77.5M807.60 63.6V67L785.36 74V77.5M823.80 63.6V67L795.48 74V77.5M840.00 63.6V67L797.51 74V77.5M871.70 63.6V67L881.24 74V77.5M887.90 63.6V67L882.59 74V77.5M904.10 63.6V67L883.26 74V77.5M920.30 63.6V67L883.94 74V77.5M936.50 63.6V67L884.61 74V77.5M952.70 63.6V67L885.29 74V77.5M968.90 63.6V67L917.02 74V77.5M985.10 63.6V67L923.77 74V77.5M1001.30 63.6V67L925.12 74V77.5M1017.50 63.6V67L925.80 74V77.5M1033.70 63.6V67L927.15 74V77.5M1049.90 63.6V67L927.82 74V77.5M1066.10 63.6V67L929.17 74V77.5M1082.30 63.6V67L931.88 74V77.5" fill="none" stroke="#1d1d7e" stroke-width="1.2" stroke-linejoin="round"/>
<text transform="translate(667.50 762.10) rotate(-90) scale(1 1.08)" font-family="'Liberation Sans',sans-serif" font-size="13.70" fill="#1d1d7e">0.88</text>
<text transform="translate(734.00 762.10) rotate(-90) scale(1 1.08)" font-family="'Liberation Sans',sans-serif" font-size="13.70" fill="#1d1d7e">0.68</text>
<text transform="translate(750.20 762.10) rotate(-90) scale(1 1.08)" font-family="'Liberation Sans',sans-serif" font-size="13.70" fill="#1d1d7e">3.00</text>
<text transform="translate(766.40 762.10) rotate(-90) scale(1 1.08)" font-family="'Liberation Sans',sans-serif" font-size="13.70" fill="#1d1d7e">1.01</text>
<text transform="translate(782.60 762.10) rotate(-90) scale(1 1.08)" font-family="'Liberation Sans',sans-serif" font-size="13.70" fill="#1d1d7e">2.02</text>
<text transform="translate(798.80 762.10) rotate(-90) scale(1 1.08)" font-family="'Liberation Sans',sans-serif" font-size="13.70" fill="#1d1d7e">1.00</text>
<text transform="translate(885.20 762.10) rotate(-90) scale(1 1.08)" font-family="'Liberation Sans',sans-serif" font-size="13.70" fill="#1d1d7e">0.97</text>
<text transform="translate(917.00 762.10) rotate(-90) scale(1 1.08)" font-family="'Liberation Sans',sans-serif" font-size="13.70" fill="#1d1d7e">9.00</text>
<text transform="translate(933.20 762.10) rotate(-90) scale(1 1.08)" font-family="'Liberation Sans',sans-serif" font-size="13.70" fill="#1d1d7e">1.99</text>
<path d="M649.90 724.2H676.40M649.90 720.8v6.8M676.40 720.8v6.8M706.30 724.2H742.70M706.30 720.8v6.8M742.70 720.8v6.8M746.50 724.2H758.50M746.50 720.8v6.8M758.50 720.8v6.8M770.40 724.2H780.30M770.40 720.8v6.8M780.30 720.8v6.8M780.30 724.2H790.60M780.30 720.8v6.8M790.60 720.8v6.8M792.50 724.2H808.50M792.50 720.8v6.8M808.50 720.8v6.8M863.50 724.2H898.50M863.50 720.8v6.8M898.50 720.8v6.8M914.30 724.2H920.80M914.30 720.8v6.8M920.80 720.8v6.8M920.80 724.2H931.50M920.80 720.8v6.8M931.50 720.8v6.8" fill="none" stroke="#58a558" stroke-width="0.9"/>
<path d="M663.20 724.2V733M724.50 724.2V726.2L729.70 730.4V733M752.50 724.2V726.2L745.90 730.4V733M775.35 724.2V726.2L762.10 730.4V733M785.45 724.2V726.2L778.30 730.4V733M800.50 724.2V726.2L794.50 730.4V733M880.90 724.2V733M917.55 724.2V726.2L912.70 730.4V733M926.15 724.2V726.2L928.90 730.4V733" fill="none" stroke="#2a2a78" stroke-width="1.1" stroke-linejoin="round"/>
<path d="M649.7 250.3H659.4C662.2 250.3 661.8 235.6 665 235.6H675.6M705.9 250.3H714C725 250.3 724 239.3 736 239.3H742.2M747.6 250.3C749 243 750 232 751.2 225C752.4 219 754.5 212 757.1 201M770.8 250.3H773.6C774.2 250.3 774 243.5 774.7 243.5L775.9 242.8C776.6 242.8 776.3 234.8 777 234.6H778.2M782 250C783.2 247 783.8 242 784.6 238C785.6 233 786.6 229 787.4 226C788.2 222.5 788.8 220 789.6 217.3M793.3 250.2H794.6C795.8 250.2 795.6 243 796.8 241.5C797.8 240 797.6 237.5 799.2 234.2C799.6 233.8 800 233.8 800.6 233.8H807.7M863.9 250.2H879.8C883.6 250.2 882.6 233.8 886.2 233.8H898.4M914.3 250.2H916.3C916.8 250.2 916.8 230 916.9 105.5L919.2 103M921 250.2C923 249.5 923.8 245 925 241.5C926.6 237 927.6 236 928.6 231C929.6 226 930.4 221 931.4 217.4" fill="none" stroke="#3f9a45" stroke-width="0.85" stroke-linejoin="round"/>
<path d="M916.9 249V106" fill="none" stroke="#3f9a45" stroke-width="1.1"/>
<rect x="771.4" y="278.3" width="61.4" height="46.7" fill="none" stroke="#94609f" stroke-width="1.1"/>
<text transform="translate(778.10 297.70) scale(0.780 1.000)" x="5.13 15.38 27.69 35.90 46.15 54.36" y="0" font-family="'Liberation Serif',serif" font-size="17.20" fill="#87508f" text-anchor="middle" >G (dd)</text>
<text transform="translate(786.10 316.90) scale(0.800 1.000)" x="5.00 15.00 25.00 35.00" y="0" font-family="'Liberation Serif',serif" font-size="17.20" fill="#87508f" text-anchor="middle" >3.23</text>
<rect x="730.4" y="326.9" width="52.7" height="46.7" fill="none" stroke="#94609f" stroke-width="1.1"/>
<text transform="translate(736.75 346.30) scale(0.780 1.000)" x="5.13 15.38 27.69 35.90 44.10" y="0" font-family="'Liberation Serif',serif" font-size="17.20" fill="#87508f" text-anchor="middle" >D (<tspan font-family="'Liberation Mono',monospace" font-size="16.75">m</tspan>)</text>
<text transform="translate(740.75 365.50) scale(0.800 1.000)" x="5.00 15.00 25.00 35.00" y="0" font-family="'Liberation Serif',serif" font-size="17.20" fill="#87508f" text-anchor="middle" >3.91</text>
<rect x="895.8" y="326.9" width="52.8" height="46.7" fill="none" stroke="#94609f" stroke-width="1.1"/>
<text transform="translate(902.20 346.30) scale(0.780 1.000)" x="5.13 15.38 27.69 35.90 44.10" y="0" font-family="'Liberation Serif',serif" font-size="17.20" fill="#87508f" text-anchor="middle" >H (s)</text>
<text transform="translate(906.20 365.50) scale(0.800 1.000)" x="5.00 15.00 25.00 35.00" y="0" font-family="'Liberation Serif',serif" font-size="17.20" fill="#87508f" text-anchor="middle" >1.46</text>
<rect x="641.5" y="375.6" width="52.4" height="46.7" fill="none" stroke="#94609f" stroke-width="1.1"/>
<text transform="translate(647.70 395.00) scale(0.780 1.000)" x="5.13 15.38 27.69 35.90 44.10" y="0" font-family="'Liberation Serif',serif" font-size="17.20" fill="#87508f" text-anchor="middle" >B (d)</text>
<text transform="translate(651.70 414.20) scale(0.800 1.000)" x="5.00 15.00 25.00 35.00" y="0" font-family="'Liberation Serif',serif" font-size="17.20" fill="#87508f" text-anchor="middle" >5.23</text>
<rect x="701.7" y="375.6" width="52.6" height="46.7" fill="none" stroke="#94609f" stroke-width="1.1"/>
<text transform="translate(708.00 395.00) scale(0.780 1.000)" x="5.13 15.38 27.69 35.90 44.10" y="0" font-family="'Liberation Serif',serif" font-size="17.20" fill="#87508f" text-anchor="middle" >C (s)</text>
<text transform="translate(712.00 414.20) scale(0.800 1.000)" x="5.00 15.00 25.00 35.00" y="0" font-family="'Liberation Serif',serif" font-size="17.20" fill="#87508f" text-anchor="middle" >4.33</text>
<rect x="755.7" y="375.6" width="69.7" height="46.7" fill="none" stroke="#94609f" stroke-width="1.1"/>
<text transform="translate(762.55 395.00) scale(0.780 1.000)" x="5.13 15.38 27.69 35.90 46.15 56.41 64.62" y="0" font-family="'Liberation Serif',serif" font-size="17.20" fill="#87508f" text-anchor="middle" >F (ddd)</text>
<text transform="translate(774.55 414.20) scale(0.800 1.000)" x="5.00 15.00 25.00 35.00" y="0" font-family="'Liberation Serif',serif" font-size="17.20" fill="#87508f" text-anchor="middle" >3.41</text>
<rect x="862.2" y="375.6" width="52.8" height="46.7" fill="none" stroke="#94609f" stroke-width="1.1"/>
<text transform="translate(868.60 395.00) scale(0.780 1.000)" x="5.13 15.38 27.69 35.90 44.10" y="0" font-family="'Liberation Serif',serif" font-size="17.20" fill="#87508f" text-anchor="middle" >A (<tspan font-family="'Liberation Mono',monospace" font-size="16.75">m</tspan>)</text>
<text transform="translate(872.60 414.20) scale(0.800 1.000)" x="5.00 15.00 25.00 35.00" y="0" font-family="'Liberation Serif',serif" font-size="17.20" fill="#87508f" text-anchor="middle" >1.95</text>
<rect x="750.2" y="430.2" width="61.1" height="46.7" fill="none" stroke="#94609f" stroke-width="1.1"/>
<text transform="translate(756.75 449.60) scale(0.780 1.000)" x="5.13 15.38 27.69 35.90 46.15 54.36" y="0" font-family="'Liberation Serif',serif" font-size="17.20" fill="#87508f" text-anchor="middle" >E (dd)</text>
<text transform="translate(764.75 468.80) scale(0.800 1.000)" x="5.00 15.00 25.00 35.00" y="0" font-family="'Liberation Serif',serif" font-size="17.20" fill="#87508f" text-anchor="middle" >3.55</text>
<rect x="900.2" y="430.2" width="61.5" height="46.7" fill="none" stroke="#94609f" stroke-width="1.1"/>
<text transform="translate(906.95 449.60) scale(0.780 1.000)" x="5.13 15.38 27.69 35.90 46.15 54.36" y="0" font-family="'Liberation Serif',serif" font-size="17.20" fill="#87508f" text-anchor="middle" >I (tt)</text>
<text transform="translate(914.95 468.80) scale(0.800 1.000)" x="5.00 15.00 25.00 35.00" y="0" font-family="'Liberation Serif',serif" font-size="17.20" fill="#87508f" text-anchor="middle" >1.33</text>
<path d="M650.00 427.5H676.30M650.00 424.5v6M676.30 424.5v6M706.40 427.5H742.80M706.40 424.5v6M742.80 424.5v6M746.50 427.5H758.50M746.50 424.5v6M758.50 424.5v6M770.50 427.5H780.20M770.50 424.5v6M780.20 424.5v6M780.20 427.5H790.60M780.20 424.5v6M790.60 424.5v6M792.60 427.5H808.50M792.60 424.5v6M808.50 424.5v6M863.50 427.5H898.50M863.50 424.5v6M898.50 424.5v6M914.20 427.5H920.50M914.20 424.5v6M920.50 424.5v6M920.50 427.5H935.60M920.50 424.5v6M935.60 424.5v6" fill="none" stroke="#7f4f8c" stroke-width="1"/>
<path d="M70.2 115.3L87.3 105.7M98.1 105.7L115.3 115.3M65.5 125.0L65.5 140.6M120.7 125.0L120.7 142.9M73.6 155.2L87.7 163.3M98.1 163.3L115.3 153.9M164.7 156.3L170.9 152.9M181.2 152.9L194.7 160.6M212.2 160.6L222.5 154.8M239.3 145.1L250.6 139.0M239.3 154.8L250.6 161.0M174.7 140.3L174.7 143.2M177.5 140.3L177.5 143.2M148.4 93.8L148.4 95.6M231.4 140.3L231.4 142.0" fill="none" stroke="#1a1a1a" stroke-width="1.15"/>
<path d="M126 115L138.7 104.3L141.7 109.9Z" fill="#1a1a1a"/>
<path d="M126 153.2L141.7 158.5L138.7 164.1Z" fill="#1a1a1a"/>
<text x="154.40" y="78.00" font-family="'Liberation Sans',sans-serif" font-size="16.20" fill="#1a1a1a" stroke="#1a1a1a" stroke-width="0.25" text-anchor="middle">OH</text>
<text x="65.50" y="157.50" font-family="'Liberation Sans',sans-serif" font-size="16.20" fill="#1a1a1a" stroke="#1a1a1a" stroke-width="0.25" text-anchor="middle">O</text>
<text x="154.30" y="173.00" font-family="'Liberation Sans',sans-serif" font-size="16.20" fill="#1a1a1a" stroke="#1a1a1a" stroke-width="0.25" text-anchor="middle">NH</text>
<text x="175.90" y="125.50" font-family="'Liberation Sans',sans-serif" font-size="16.20" fill="#1a1a1a" stroke="#1a1a1a" stroke-width="0.25" text-anchor="middle">O</text>
<text x="203.70" y="173.00" font-family="'Liberation Sans',sans-serif" font-size="16.20" fill="#1a1a1a" stroke="#1a1a1a" stroke-width="0.25" text-anchor="middle">O</text>
<text x="225.60" y="125.50" font-family="'Liberation Sans',sans-serif" font-size="16.20" fill="#1a1a1a" stroke="#1a1a1a" stroke-width="0.25">CH<tspan font-size="11.5" dy="3.6">3</tspan></text>
<text x="253.20" y="142.10" font-family="'Liberation Sans',sans-serif" font-size="16.20" fill="#1a1a1a" stroke="#1a1a1a" stroke-width="0.25">CH<tspan font-size="11.5" dy="3.6">3</tspan></text>
<text x="253.20" y="173.70" font-family="'Liberation Sans',sans-serif" font-size="16.20" fill="#1a1a1a" stroke="#1a1a1a" stroke-width="0.25">CH<tspan font-size="11.5" dy="3.6">3</tspan></text>
<text x="148.90" y="91.30" font-family="'Liberation Sans',sans-serif" font-size="10.80" fill="#c8383c" stroke="#c8383c" stroke-width="0.25" text-anchor="middle">12</text>
<text x="148.40" y="107.60" font-family="'Liberation Sans',sans-serif" font-size="10.80" fill="#c8383c" stroke="#c8383c" stroke-width="0.25" text-anchor="middle">11</text>
<text x="92.80" y="107.60" font-family="'Liberation Sans',sans-serif" font-size="10.80" fill="#c8383c" stroke="#c8383c" stroke-width="0.25" text-anchor="middle">8</text>
<text x="120.70" y="123.50" font-family="'Liberation Sans',sans-serif" font-size="10.80" fill="#c8383c" stroke="#c8383c" stroke-width="0.25" text-anchor="middle">7</text>
<text x="65.50" y="123.50" font-family="'Liberation Sans',sans-serif" font-size="10.80" fill="#c8383c" stroke="#c8383c" stroke-width="0.25" text-anchor="middle">9</text>
<text x="65.70" y="170.80" font-family="'Liberation Sans',sans-serif" font-size="10.80" fill="#c8383c" stroke="#c8383c" stroke-width="0.25" text-anchor="middle">10</text>
<text x="92.80" y="170.80" font-family="'Liberation Sans',sans-serif" font-size="10.80" fill="#c8383c" stroke="#c8383c" stroke-width="0.25" text-anchor="middle">5</text>
<text x="120.70" y="155.10" font-family="'Liberation Sans',sans-serif" font-size="10.80" fill="#c8383c" stroke="#c8383c" stroke-width="0.25" text-anchor="middle">6</text>
<text x="148.20" y="186.70" font-family="'Liberation Sans',sans-serif" font-size="10.80" fill="#c8383c" stroke="#c8383c" stroke-width="0.25" text-anchor="middle">2</text>
<text x="176.00" y="155.10" font-family="'Liberation Sans',sans-serif" font-size="10.80" fill="#c8383c" stroke="#c8383c" stroke-width="0.25" text-anchor="middle">1</text>
<text x="176.10" y="138.90" font-family="'Liberation Sans',sans-serif" font-size="10.80" fill="#c8383c" stroke="#c8383c" stroke-width="0.25" text-anchor="middle">3</text>
<text x="203.40" y="186.70" font-family="'Liberation Sans',sans-serif" font-size="10.80" fill="#c8383c" stroke="#c8383c" stroke-width="0.25" text-anchor="middle">4</text>
<text x="231.90" y="155.10" font-family="'Liberation Sans',sans-serif" font-size="10.80" fill="#c8383c" stroke="#c8383c" stroke-width="0.25" text-anchor="middle">13</text>
<text x="231.90" y="138.90" font-family="'Liberation Sans',sans-serif" font-size="10.80" fill="#c8383c" stroke="#c8383c" stroke-width="0.25" text-anchor="middle">16</text>
<text x="259.20" y="155.10" font-family="'Liberation Sans',sans-serif" font-size="10.80" fill="#c8383c" stroke="#c8383c" stroke-width="0.25" text-anchor="middle">15</text>
<text x="259.20" y="186.70" font-family="'Liberation Sans',sans-serif" font-size="10.80" fill="#c8383c" stroke="#c8383c" stroke-width="0.25" text-anchor="middle">14</text>
<text x="95.0" y="326.2" font-family="'Liberation Serif',serif" font-size="14.3" fill="#222" textLength="535.4" lengthAdjust="spacing"><tspan font-size="9" dy="-5">1</tspan><tspan dy="5">H NMR (400 MHz, cdcl</tspan><tspan font-size="9" dy="2.2">3</tspan><tspan dy="-2.2">) δ 5.23 (d, </tspan><tspan font-style="italic">J</tspan> = 8.2 Hz, 1H), 4.33 (s, 1H), 3.98 – 3.81 (m, 3H), 3.55</text>
<text x="94.1" y="343.3" font-family="'Liberation Serif',serif" font-size="14.3" fill="#222" textLength="549.6" lengthAdjust="spacing">(dd, <tspan font-style="italic">J</tspan> = 11.7, 1.8 Hz, 1H), 3.41 (ddd, <tspan font-style="italic">J</tspan> = 9.9, 9.1, 4.0 Hz, 2H), 3.23 (dd, <tspan font-style="italic">J</tspan> = 12.0, 10.8 Hz, 1H),</text>
<text x="94.3" y="360.0" font-family="'Liberation Serif',serif" font-size="14.3" fill="#222" textLength="381.4" lengthAdjust="spacing">2.25 – 1.73 (m, 1H), 1.46 (s, 9H), 1.33 (tt, <tspan font-style="italic">J</tspan> = 28.6, 10.8 Hz, 2H).</text>
<g fill="none" stroke="#7dc242" stroke-linecap="round" stroke-linejoin="round">
<path d="M455.2 368.9L467.6 346.6H494.2L506.8 368.9L494.2 391.4H467.6Z" stroke-width="3.6"/>
<path d="M473.4 352.7H489.2M463.4 371.6L471.2 384.8M498.4 371.6L490.6 384.8" stroke-width="3"/>
</g>
<text transform="translate(510 393.9) scale(0.730 1)" x="-2.04 47.62 78.45 88.78 124.19 155.85 188.22" y="0" font-family="'Liberation Sans',sans-serif" font-size="60" fill="#0a0a0a" stroke="#0a0a0a" stroke-width="1.1">MolBest</text>
<text x="448.4" y="425.8" font-family="'Liberation Sans',sans-serif" font-size="13.2" fill="#8a8a8a" textLength="289" lengthAdjust="spacing">molBest.com,180K+ Chemical Reagents In Stock.</text>
</svg>
</body></html>
